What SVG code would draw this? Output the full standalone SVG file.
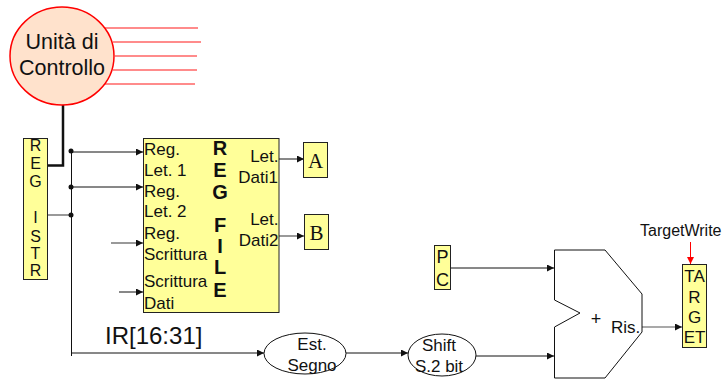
<svg xmlns="http://www.w3.org/2000/svg" width="723" height="381" viewBox="0 0 723 381">
<style>
text{font-family:"Liberation Sans",Arial,sans-serif;fill:#111}
.y{fill:#ffff99;stroke:#222;stroke-width:1}
.w{fill:#fff;stroke:#111;stroke-width:1}
.c{stroke:#111;stroke-width:1;fill:none}
.g{stroke:#555;stroke-width:1.2;fill:none}
.r{stroke:#ff6666;stroke-width:1.3;fill:none}
.t{font-size:17px}
.m{text-anchor:middle}
.b{font-size:20px;font-weight:bold;text-anchor:middle}
.s{font-family:"Liberation Serif","Times New Roman",serif;font-size:21px;text-anchor:middle}
</style>
<defs>
<marker id="a" markerUnits="userSpaceOnUse" markerWidth="8" markerHeight="8" refX="7" refY="3.5" orient="auto"><path d="M0 0L7 3.5L0 7z" fill="#111"/></marker>
<marker id="ar" markerUnits="userSpaceOnUse" markerWidth="8" markerHeight="8" refX="7" refY="3.5" orient="auto"><path d="M0 0L7 3.5L0 7z" fill="#f00"/></marker>
</defs>
<g id="connectors">
<path class="r" d="M105 28H198M113 42H201M115 56H197M113 70H197M105 84H195"/>
<path d="M63 105V165.500H47" fill="none" stroke="#111" stroke-width="2.500"/>
<path class="c" d="M71.500 151V356"/>
<path class="g" d="M47 215H71"/>
<g>
<path class="c" marker-end="url(#a)" d="M71 152H143"/>
<path class="c" marker-end="url(#a)" d="M71 187H143"/>
<path class="g" marker-end="url(#a)" d="M111 243H143"/>
<path class="c" marker-end="url(#a)" d="M119 292H143"/>
<path class="c" marker-end="url(#a)" d="M279 159H304"/>
<path class="g" marker-end="url(#a)" d="M279 236H304"/>
<path class="c" marker-end="url(#a)" d="M72 353H264"/>
<path class="c" marker-end="url(#a)" d="M345 353H408"/>
<path class="c" marker-end="url(#a)" d="M476 356H554"/>
<path class="c" marker-end="url(#a)" d="M450 268H554"/>
<path class="g" marker-end="url(#a)" d="M642 327H682"/>
<path d="M690.500 242V264" stroke="#f00" stroke-width="1" fill="none" marker-end="url(#ar)"/>
</g>
<circle cx="71" cy="151" r="2.500" fill="#111"/>
<circle cx="71" cy="187" r="2.500" fill="#111"/>
<circle cx="71" cy="215" r="2.500" fill="#111"/>
</g>
<g id="control-unit">
<ellipse cx="62" cy="56" rx="52" ry="49" fill="#ffe2cc" stroke="#f00" stroke-width="1.500"/>
<text class="m" x="62" y="49" font-size="21.500">Unità di</text>
<text class="m" x="62" y="75" font-size="21.500">Controllo</text>
</g>
<g id="reg-istr">
<rect class="y" x="23.500" y="138.500" width="24" height="141"/>
<g class="m" font-size="16">
<text x="35.500" y="151">R</text><text x="35.500" y="169">E</text><text x="35.500" y="187">G</text>
<text x="35.500" y="223">I</text><text x="35.500" y="241.500">S</text><text x="35.500" y="258.500">T</text><text x="35.500" y="276">R</text>
</g>
</g>
<g id="reg-file">
<rect class="y" x="143.500" y="138.500" width="135.500" height="174"/>
<g class="t">
<text x="144" y="155">Reg.</text><text x="144" y="176">Let. 1</text>
<text x="144" y="197">Reg.</text><text x="144" y="217">Let. 2</text>
<text x="144" y="239">Reg.</text><text x="144" y="260">Scrittura</text>
<text x="144" y="287">Scrittura</text><text x="144" y="309">Dati</text>
</g>
<g class="b">
<text x="220" y="155">R</text><text x="220" y="177">E</text><text x="220" y="199">G</text>
<text x="220" y="232">F</text><text x="220" y="253">I</text><text x="220" y="274">L</text><text x="220" y="297">E</text>
</g>
<g class="t" text-anchor="end">
<text x="278.500" y="162">Let.</text><text x="278" y="183">Dati1</text>
<text x="278.500" y="225">Let.</text><text x="278.500" y="246">Dati2</text>
</g>
</g>
<g id="reg-a"><rect class="y" x="303.500" y="142.500" width="24" height="35"/><text class="s" x="315.500" y="168">A</text></g>
<g id="reg-b"><rect class="y" x="304.500" y="214.500" width="24" height="35"/><text class="s" x="316.500" y="240">B</text></g>
<g id="ir-label"><text x="105" y="344" font-size="24">IR[16:31]</text></g>
<g id="est-segno">
<ellipse class="w" cx="305" cy="353.500" rx="41" ry="20.500"/>
<text class="t m" x="312" y="350">Est.</text><text class="t m" x="312" y="371">Segno</text>
</g>
<g id="shift">
<ellipse class="w" cx="442" cy="355" rx="34" ry="21"/>
<text class="t m" x="439" y="351">Shift</text><text class="t m" x="439" y="372">S.2 bit</text>
</g>
<g id="pc">
<rect class="y" x="434.500" y="245.500" width="16" height="44"/>
<g class="m" font-size="18"><text x="442.500" y="263">P</text><text x="442.500" y="286">C</text></g>
</g>
<g id="alu">
<path class="w" d="M554.500 250H605L642 294V332L605 378H554.500V327L580 313L554.500 300Z"/>
<text class="m" x="596" y="325" font-size="18">+</text>
<text class="t" x="611" y="333">Ris.</text>
</g>
<g id="target">
<rect class="y" x="682.500" y="264.500" width="24" height="83"/>
<g class="m" font-size="17">
<text x="694.500" y="282">TA</text><text x="694.500" y="303">R</text><text x="694.500" y="323">G</text><text x="694.500" y="343">ET</text>
</g>
</g>
<g id="target-write"><text x="640" y="236" font-size="16">TargetWrite</text></g>
</svg>
